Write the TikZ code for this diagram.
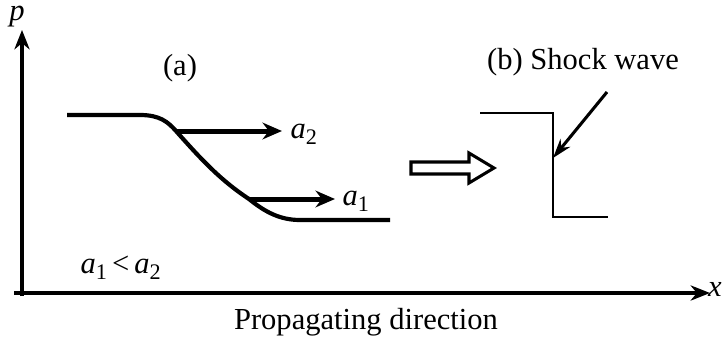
\documentclass[tikz,border=0pt]{standalone}
\usepackage{fontspec}
\setmainfont{Liberation Serif}
\usetikzlibrary{arrows.meta}
\begin{document}
\begin{tikzpicture}[x=0.36pt,y=-0.36pt,
  lbl/.style={font=\fontsize{11}{13}\selectfont, inner sep=0pt},
  ax/.style={line width=1.1pt,-{Stealth[length=7pt,width=5.5pt]}},
  thick curve/.style={line width=1.5pt},
  spd/.style={line width=1.8pt,-{Stealth[length=7pt,width=6pt]}},
  thin/.style={line width=1pt}]
\useasboundingbox (0,0) rectangle (722,342);
% axes
\coordinate (O) at (22,293);
\coordinate (ytip) at (22,30);
\coordinate (xtip) at (710,293);
\draw[ax] (22,296) -- (ytip);
\draw[ax] (14,293) -- (xtip);
\node[lbl,font=\fontsize{11}{13}\selectfont\itshape] (p) at (17,17) {p};
\node[lbl,font=\fontsize{11}{13}\selectfont\itshape] (x) at (715,289) {x};
\node[lbl] (prop) at (366,322) {Propagating direction};
% (a)
\node[lbl] (a) at (180,68) {(a)};
\coordinate (c0) at (67,115);
\coordinate (c1) at (140,115);
\coordinate (m2) at (176,131);
\coordinate (m1) at (249,199);
\coordinate (c4) at (300,220);
\coordinate (c5) at (390,220);
\draw[thick curve] (c0) -- (c1) .. controls (160,115) and (168,122) .. (m2)
  .. controls (200,158) and (220,180) .. (m1)
  .. controls (265,212) and (280,220) .. (c4) -- (c5);
\coordinate (a2e) at (282,131);
\coordinate (a1e) at (335,199);
\draw[spd] (m2) -- (a2e);
\draw[spd] (m1) -- (a1e);
\node[lbl,anchor=west] (la2) at (290,134) {\textit{a}\raisebox{-0.45ex}{\fontsize{8}{9}\selectfont 2}};
\node[lbl,anchor=west] (la1) at (342,201) {\textit{a}\raisebox{-0.45ex}{\fontsize{8}{9}\selectfont 1}};
\node[lbl,anchor=west] (ineq) at (80,268) {\textit{a}\raisebox{-0.45ex}{\fontsize{8}{9}\selectfont 1}\,{<}\,\textit{a}\raisebox{-0.45ex}{\fontsize{8}{9}\selectfont 2}};
% hollow arrow
\draw[line width=1.1pt,fill=white] (411,162) -- (469,162) -- (469,153) -- (494,168) -- (469,183) -- (469,174) -- (411,174) -- cycle;
% (b)
\node[lbl] (b) at (583,62) {(b) Shock wave};
\coordinate (s0) at (480,113);
\coordinate (s1) at (553,113);
\coordinate (s2) at (553,217);
\coordinate (s3) at (608,217);
\draw[thin] (s0) -- (s1) -- (s2) -- (s3);
\coordinate (pt) at (607,92);
\coordinate (hit) at (553,158);
\draw[line width=1.1pt,-{Stealth[length=7pt,width=4.5pt]}] (pt) -- (hit);
\end{tikzpicture}
\end{document}
